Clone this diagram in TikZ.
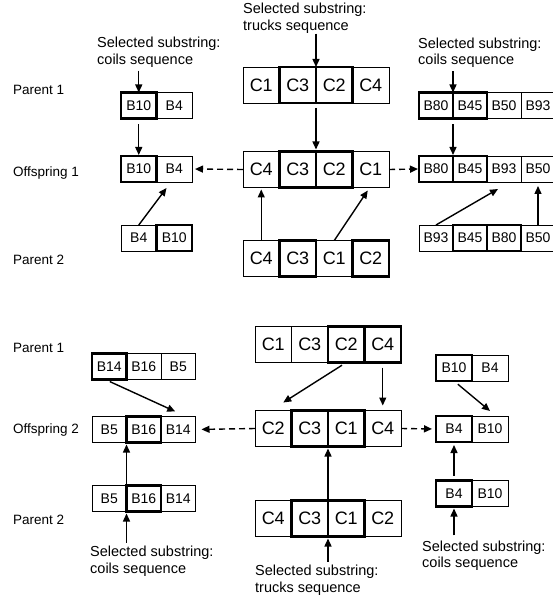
\documentclass[tikz,border=0pt]{standalone}
\usepackage{fontspec}
\setmainfont{Liberation Sans}
\usetikzlibrary{arrows.meta}

\begin{document}
\begin{tikzpicture}[x=1pt, y=-1pt,
      cellB/.style={draw, line width=0.8pt, minimum width=35.5pt,
                    minimum height=26pt, inner sep=0pt, outer sep=0pt,
                    font=\fontsize{14}{16}\selectfont},
      cellC/.style={cellB, minimum width=36.5pt, minimum height=36pt,
                    font=\fontsize{18}{20}\selectfont},
      sel/.style={line width=2.2pt},
      lbl/.style={anchor=west, inner sep=0pt, font=\fontsize{13.5}{16}\selectfont},
      note/.style={anchor=west, align=left, inner sep=0pt,
                   font=\fontsize{14.5}{16.5}\selectfont},
      arr/.style={-{Triangle[length=8pt,width=7pt]}, line width=1.4pt},
      darr/.style={arr, dash pattern=on 6pt off 4pt}
    ]
      \useasboundingbox (0,0) rectangle (552,601);

      % offspring 1
      \node[lbl] (lp1) at (13, 90)  {Parent 1};
      \node[lbl] (lo1) at (13, 173) {Offspring 1};
      \node[lbl] (lp2) at (13, 260) {Parent 2};

      \node[note] (selT) at (243, 18.5) {Selected substring:\\trucks sequence};
      \node[note] (selL) at (97, 52.5)  {Selected substring:\\coils sequence};
      \node[note] (selR) at (418, 53)   {Selected substring:\\coils sequence};

      \node[cellB]      (p1b2) at (174.25, 105.5) {B4};
      \node[cellB, sel] (p1b1) at (138.75, 105.5) {B10};
      \node[cellB]      (o1b2) at (174.25, 169) {B4};
      \node[cellB, sel] (o1b1) at (138.75, 169) {B10};
      \node[cellB]      (p2b1) at (138.75, 238) {B4};
      \node[cellB, sel] (p2b2) at (174.25, 238) {B10};

      \node[cellC]      (p1c1) at (261.25, 85) {C1};
      \node[cellC]      (p1c4) at (370.75, 85) {C4};
      \node[cellC, sel] (p1c2) at (297.75, 85) {C3};
      \node[cellC, sel] (p1c3) at (334.25, 85) {C2};
      \node[cellC]      (o1c1) at (261.25, 169.5) {C4};
      \node[cellC]      (o1c4) at (370.75, 169.5) {C1};
      \node[cellC, sel] (o1c2) at (297.75, 169.5) {C3};
      \node[cellC, sel] (o1c3) at (334.25, 169.5) {C2};
      \node[cellC]      (p2c1) at (261.25, 258.5) {C4};
      \node[cellC]      (p2c3) at (334.25, 258.5) {C1};
      \node[cellC, sel] (p2c2) at (297.75, 258.5) {C3};
      \node[cellC, sel] (p2c4) at (370.75, 258.5) {C2};

      \node[cellB, minimum width=34pt]      (p1r3) at (504, 105.5) {B50};
      \node[cellB, minimum width=34pt]      (p1r4) at (538, 105.5) {B93};
      \node[cellB, minimum width=34pt, sel] (p1r1) at (436, 105.5) {B80};
      \node[cellB, minimum width=34pt, sel] (p1r2) at (470, 105.5) {B45};
      \node[cellB, minimum width=34pt]      (o1r3) at (504, 169) {B93};
      \node[cellB, minimum width=34pt]      (o1r4) at (538, 169) {B50};
      \node[cellB, minimum width=34pt, sel] (o1r1) at (436, 169) {B80};
      \node[cellB, minimum width=34pt, sel] (o1r2) at (470, 169) {B45};
      \node[cellB, minimum width=34pt]      (p2r1) at (436, 238) {B93};
      \node[cellB, minimum width=34pt]      (p2r4) at (538, 238) {B50};
      \node[cellB, minimum width=34pt, sel] (p2r2) at (470, 238) {B45};
      \node[cellB, minimum width=34pt, sel] (p2r3) at (504, 238) {B80};

      \draw[arr] (selT.south -| p1c2.north east) -- (p1c2.north east);
      \draw[arr, shorten <=5pt, shorten >=2pt] (p1c2.south east) -- (o1c2.north east);
      \draw[arr, shorten <=3pt] (selL.south -| p1b1.north) -- (p1b1.north);
      \draw[arr, shorten <=6pt, shorten >=1pt] (p1b1.south) -- (o1b1.north);
      \draw[arr] (p2b1.north) -- ([xshift=10pt,yshift=-6pt]o1b2.south west);
      \draw[arr, shorten >=2pt] (p2c1.north) -- (o1c1.south);
      \draw[arr] (p2c3.north) -- ([xshift=-3pt,yshift=-3pt]o1c4.south);
      \draw[arr, shorten <=3pt] (selR.south -| p1r1.north east) -- (p1r1.north east);
      \draw[arr, shorten <=6pt, shorten >=1pt] (p1r1.south east) -- (o1r1.north east);
      \draw[arr] (p2r1.north) -- ([xshift=-6pt,yshift=-7pt]o1r3.south);
      \draw[arr, shorten >=4pt] (p2r4.north) -- (o1r4.south);
      \draw[darr, shorten >=3pt] (o1c1.west) -- (o1b2.east);
      \draw[darr, shorten >=1pt] (o1c4.east) -- (o1r1.west);

      % offspring 2
      \node[lbl] (lq1) at (13, 348) {Parent 1};
      \node[lbl] (lo2) at (13, 430) {Offspring 2};
      \node[lbl] (lq2) at (13, 520) {Parent 2};

      \node[note] (selBL) at (90, 561)  {Selected substring:\\coils sequence};
      \node[note] (selB)  at (255, 580) {Selected substring:\\trucks sequence};
      \node[note] (selBR) at (422, 555.5) {Selected substring:\\coils sequence};

      \node[cellB, minimum width=34.5pt]      (q1b2) at (143.75, 366.5) {B16};
      \node[cellB, minimum width=34.5pt]      (q1b3) at (178.25, 366.5) {B5};
      \node[cellB, minimum width=34.5pt, sel] (q1b1) at (109.25, 366.5) {B14};
      \node[cellB, minimum width=34.5pt]      (o2b1) at (109.25, 429.5) {B5};
      \node[cellB, minimum width=34.5pt]      (o2b3) at (178.25, 429.5) {B14};
      \node[cellB, minimum width=34.5pt, sel] (o2b2) at (143.75, 429.5) {B16};
      \node[cellB, minimum width=34.5pt]      (q2b1) at (109.25, 498.5) {B5};
      \node[cellB, minimum width=34.5pt]      (q2b3) at (178.25, 498.5) {B14};
      \node[cellB, minimum width=34.5pt, sel] (q2b2) at (143.75, 498.5) {B16};

      \node[cellC]      (q1c1) at (273.25, 344.5) {C1};
      \node[cellC]      (q1c2) at (309.75, 344.5) {C3};
      \node[cellC, sel] (q1c3) at (346.25, 344.5) {C2};
      \node[cellC, sel] (q1c4) at (382.75, 344.5) {C4};
      \node[cellC]      (o2c1) at (273.25, 428.5) {C2};
      \node[cellC]      (o2c4) at (382.75, 428.5) {C4};
      \node[cellC, sel] (o2c2) at (309.75, 428.5) {C3};
      \node[cellC, sel] (o2c3) at (346.25, 428.5) {C1};
      \node[cellC]      (q2c1) at (273.25, 518.5) {C4};
      \node[cellC]      (q2c4) at (382.75, 518.5) {C2};
      \node[cellC, sel] (q2c2) at (309.75, 518.5) {C3};
      \node[cellC, sel] (q2c3) at (346.25, 518.5) {C1};

      \node[cellB, minimum width=36pt]      (q1r2) at (490, 368) {B4};
      \node[cellB, minimum width=36pt, sel] (q1r1) at (454, 368) {B10};
      \node[cellB, minimum width=36pt]      (o2r2) at (490, 429) {B10};
      \node[cellB, minimum width=36pt, sel] (o2r1) at (454, 429) {B4};
      \node[cellB, minimum width=36pt]      (q2r2) at (490, 493.5) {B10};
      \node[cellB, minimum width=36pt, sel] (q2r1) at (454, 493.5) {B4};

      \draw[arr, shorten <=5pt] ([xshift=-4pt]q1b1.south) -- ([xshift=-3pt,yshift=5pt]o2b3.north);
      \draw[arr, shorten >=2pt] (q2b2.north west) -- (o2b2.south west);
      \draw[arr, shorten <=3pt, shorten >=2pt] (selBL.north -| q2b2.south west) -- (q2b2.south west);
      \draw[arr, shorten <=5pt] (q1c3.south) -- ([xshift=10pt,yshift=8pt]o2c1.north);
      \draw[arr, shorten <=5pt, shorten >=5pt] (q1c4.south) -- (o2c4.north);
      \draw[arr, shorten >=2pt] (q2c2.north east) -- (o2c2.south east);
      \draw[arr, shorten <=3pt, shorten >=2pt] (selB.north -| q2c2.south east) -- (q2c2.south east);
      \draw[arr, shorten <=5pt] (q1r1.south) -- ([yshift=5pt]o2r2.north);
      \draw[arr, shorten <=5pt, shorten >=3pt] (q2r1.north) -- (o2r1.south);
      \draw[arr, shorten <=5pt, shorten >=2pt] (selBR.north -| q2r1.south) -- (q2r1.south);
      \draw[darr, shorten >=6pt] (o2c1.west) -- (o2b3.east);
      \draw[darr, shorten >=4pt] (o2c4.east) -- (o2r1.west);
    \end{tikzpicture}
\end{document}
